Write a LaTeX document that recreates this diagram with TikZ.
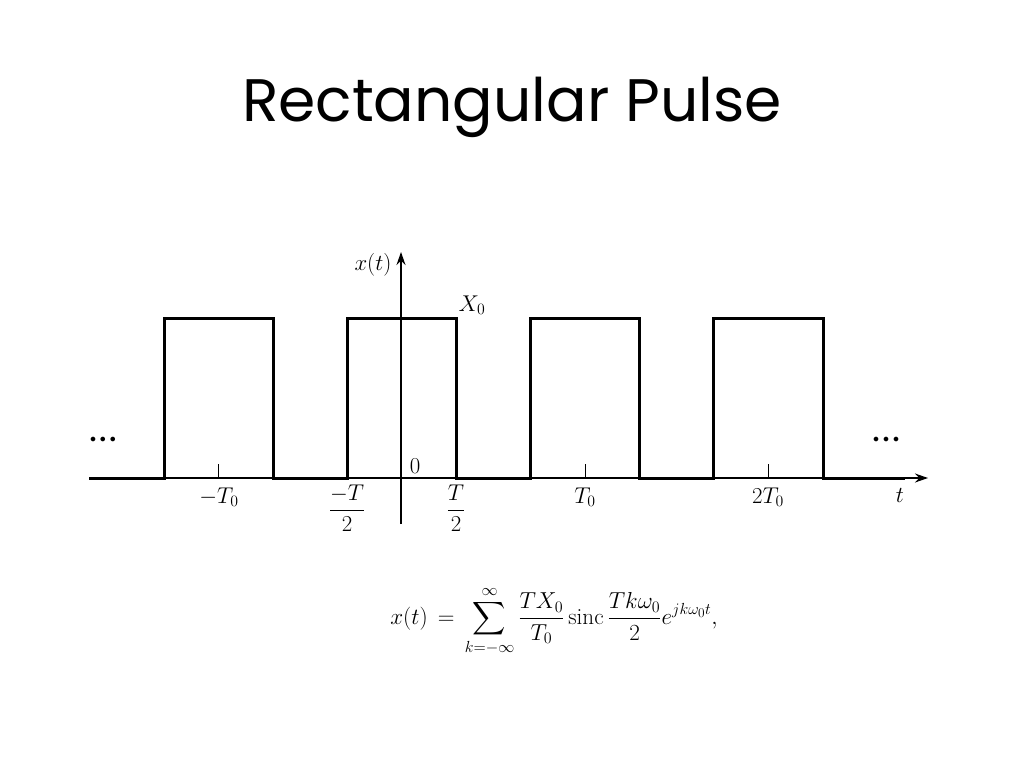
\documentclass[tikz,border=0pt]{standalone}
\usepackage{amsmath}
\usepackage{graphicx}
\usepackage{fontspec}
\newfontfamily\titlefont{Poppins}
\usetikzlibrary{arrows.meta}
\newcommand{\biglbl}[1]{\scalebox{1.1}{\fontsize{20.74}{22}\selectfont #1}}
\begin{document}
\begin{tikzpicture}[x=1pt,y=-1pt,
  axis/.style={line width=1.3pt,-{Stealth[length=13pt,width=9pt]}},
  pulse/.style={line width=3pt,line join=miter},
  tick/.style={line width=1pt},
  lbl/.style={inner sep=0pt},
  dots/.style={font=\fontsize{12}{12}\selectfont,inner sep=0pt}]
\useasboundingbox (0,0) rectangle (1024,768);
\node[font=\titlefont\fontsize{60}{66}\selectfont,anchor=base] (title) at (512,121) {Rectangular Pulse};
% axes
\coordinate (xs) at (89,478);
\coordinate (xe) at (928,478);
\coordinate (ys) at (401,524);
\coordinate (ye) at (401,252);
\draw[axis] (xs) -- (xe);
\draw[axis] (ys) -- (ye);
% pulse train
\draw[pulse] (89,478) -- (164,478) -- (164,318) -- (273,318) -- (273,478)
  -- (347,478) -- (347,318) -- (456,318) -- (456,478)
  -- (530,478) -- (530,318) -- (639,318) -- (639,478)
  -- (713,478) -- (713,318) -- (823,318) -- (823,478) -- (905,478);
% ticks
\foreach \x in {218,585,768} \draw[tick] (\x,478) -- (\x,464);
% labels
\node[lbl] (xt) at (373,265) {\biglbl{$x(t)$}};
\node[lbl] (x0) at (472,305) {\biglbl{$X_0$}};
\node[lbl] (zero) at (415,466) {\biglbl{$0$}};
\node[lbl] (mt0) at (219,497) {\biglbl{$-T_0$}};
\node[lbl] (mt2) at (347,508) {\biglbl{$\dfrac{-T}{2}$}};
\node[lbl] (pt2) at (456,508) {\biglbl{$\dfrac{T}{2}$}};
\node[lbl] (t0) at (585,497) {\biglbl{$T_0$}};
\node[lbl] (t20) at (768,497) {\biglbl{$2T_0$}};
\node[lbl] (tt) at (900,495) {\biglbl{$t$}};
\node[dots] (dl) at (103,440) {$\bullet\mkern2mu\bullet\mkern2mu\bullet$};
\node[dots] (dr) at (886,440) {$\bullet\mkern2mu\bullet\mkern2mu\bullet$};
% formula
\node[inner sep=0pt] (eq) at (554,621)
  {\scalebox{1.115}{\fontsize{20.74}{25}\selectfont$\displaystyle x(t) \,=\, \sum_{k=-\infty}^{\infty} \frac{T X_0}{T_0}\,\mathrm{sinc}\,\frac{Tk\omega_0}{2} e^{jk\omega_0 t},$}};
\end{tikzpicture}
\end{document}
